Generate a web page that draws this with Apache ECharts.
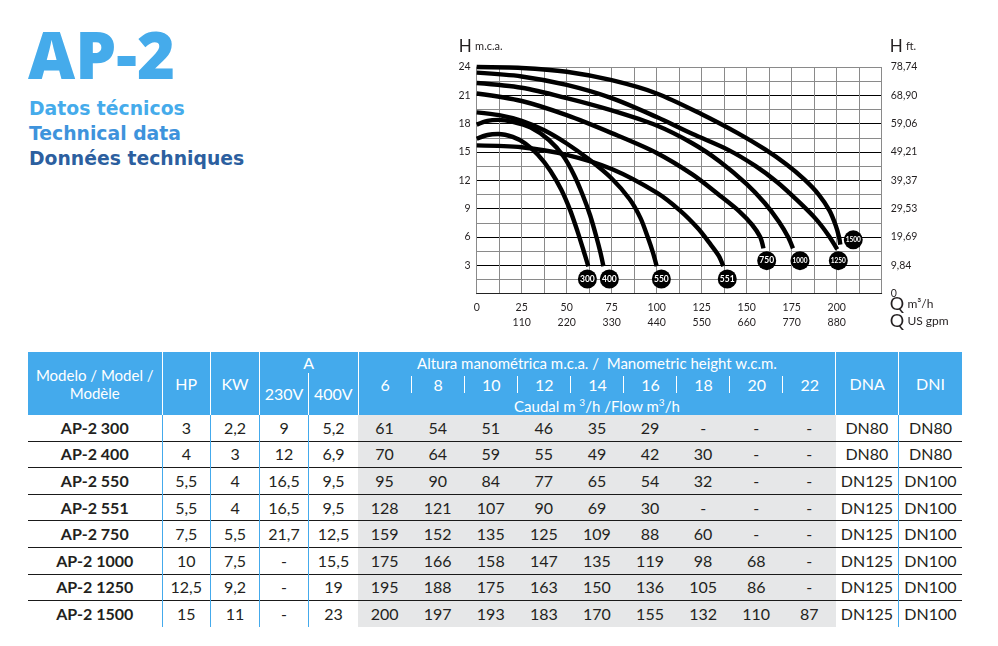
<!DOCTYPE html>
<html>
<head>
<meta charset="utf-8">
<title>AP-2</title>
<script src="https://cdn.jsdelivr.net/npm/echarts@6/dist/echarts.min.js"></script>
<style>
body{margin:0;width:998px;height:646px;background:#fff;overflow:hidden;position:relative;font-family:Lato,"Noto Sans",sans-serif;color:#231f20}
#ap{position:absolute;left:28px;top:22px;font-family:"Open Sans",sans-serif;font-weight:800;font-size:65px;line-height:1;color:#45abeb;white-space:nowrap}
.sub{position:absolute;left:29px;font-family:"DejaVu Sans",sans-serif;font-weight:bold;font-size:18.8px;line-height:25px;white-space:nowrap}
#chart{position:absolute;left:430px;top:30px;width:540px;height:310px}
#spec{position:absolute;left:28px;top:352px;width:934px;border-collapse:collapse;table-layout:fixed}
#spec th{background:#44aaec;color:#fff;font-weight:normal;font-size:15px;padding:0;text-align:center;border-right:1.5px solid #fff;line-height:18px}
#spec th.last{border-right:none}
#spec tr.h1{height:21px}
#spec tr.h2{height:42px}
#spec th.amp{border-bottom:none;vertical-align:middle}
#spec th.flow{vertical-align:middle}
.fl{line-height:19.5px;height:19.5px;white-space:nowrap}
.nums span{display:inline-block;width:53.1px;height:17px;line-height:17px;vertical-align:middle;font-size:16px}
.nums span+span{border-left:1px solid #fff;margin-left:-1px}
#spec td{padding:0;text-align:center;font-size:16px;height:25.6px;line-height:20px}
#spec tbody tr+tr td{border-top:1px solid #1a1a1a}
#spec td.b{border-right:1px solid #44aaec}
#spec td.m{font-weight:bold}
#spec td.g{background:#e6e7e8}
</style>
</head>
<body>
<div id="ap">AP-2</div>
<div class="sub" style="top:96px;color:#45abeb">Datos técnicos</div>
<div class="sub" style="top:121px;color:#3e93dc">Technical data</div>
<div class="sub" style="top:146px;color:#2c5f9f">Données techniques</div>
<div id="chart"></div>
<table id="spec">
<colgroup>
<col style="width:134px"><col style="width:48.5px"><col style="width:49px"><col style="width:49px"><col style="width:49.5px">
<col style="width:53.1px"><col style="width:53.1px"><col style="width:53.1px"><col style="width:53.1px"><col style="width:53.1px">
<col style="width:53.1px"><col style="width:53.1px"><col style="width:53.1px"><col style="width:53.1px">
<col style="width:62.6px"><col style="width:63.4px">
</colgroup>
<thead>
<tr class="h1">
<th rowspan="2">Modelo / Model /<br>Modèle</th>
<th rowspan="2" style="font-size:16px">HP</th>
<th rowspan="2" style="font-size:16px">KW</th>
<th colspan="2" class="amp" style="font-size:16px">A</th>
<th rowspan="2" colspan="9" class="flow">
<div class="fl">Altura manométrica m.c.a. /&nbsp; Manometric height w.c.m.</div>
<div class="fl nums" id="nums"></div>
<div class="fl">Caudal m <sup style="font-size:10px">3</sup>/h /Flow m<sup style="font-size:10px">3</sup>/h</div>
</th>
<th rowspan="2" style="font-size:16px">DNA</th>
<th rowspan="2" class="last" style="font-size:16px">DNI</th>
</tr>
<tr class="h2"><th style="font-size:16px">230V</th><th style="font-size:16px">400V</th></tr>
</thead>
<tbody id="rows"></tbody>
</table>
<script>
// tabla de datos técnicos
var headHeights = ['6', '8', '10', '12', '14', '16', '18', '20', '22'];
var models = ['AP-2 300', 'AP-2 400', 'AP-2 550', 'AP-2 551', 'AP-2 750', 'AP-2 1000', 'AP-2 1250', 'AP-2 1500'];
var hp = ['3', '4', '5,5', '5,5', '7,5', '10', '12,5', '15'];
var kw = ['2,2', '3', '4', '4', '5,5', '7,5', '9,2', '11'];
var amp230 = ['9', '12', '16,5', '16,5', '21,7', '-', '-', '-'];
var amp400 = ['5,2', '6,9', '9,5', '9,5', '12,5', '15,5', '19', '23'];
var flowRows = [
	['61', '54', '51', '46', '35', '29', '-', '-', '-'],
	['70', '64', '59', '55', '49', '42', '30', '-', '-'],
	['95', '90', '84', '77', '65', '54', '32', '-', '-'],
	['128', '121', '107', '90', '69', '30', '-', '-', '-'],
	['159', '152', '135', '125', '109', '88', '60', '-', '-'],
	['175', '166', '158', '147', '135', '119', '98', '68', '-'],
	['195', '188', '175', '163', '150', '136', '105', '86', '-'],
	['200', '197', '193', '183', '170', '155', '132', '110', '87']
];
var dna = ['DN80', 'DN80', 'DN125', 'DN125', 'DN125', 'DN125', 'DN125', 'DN125'];
var dni = ['DN80', 'DN80', 'DN100', 'DN100', 'DN100', 'DN100', 'DN100', 'DN100'];

// curvas: [Q m3/h, H m.c.a.]
var curve300 = [[0, 16.4], [6, 16.8], [12, 16.9], [20, 16.6], [27, 15.9], [34, 14.7], [41, 13.0], [47, 11.0], [52, 8.8], [56, 6.6], [59.3, 4.6], [62, 2.9]];
var curve400 = [[0, 17.9], [6, 18.3], [12, 18.4], [20, 18.2], [30, 17.6], [40, 16.3], [48, 14.6], [54, 12.6], [59, 10.4], [63, 8.3], [66.5, 6.0], [68.8, 4.3], [70.4, 2.9]];
var curve550 = [[0, 19.2], [12.5, 18.9], [25, 18.3], [37.5, 17.3], [50, 15.9], [62.5, 14.2], [75, 12.2], [85, 10.0], [91, 8.0], [95, 6.0], [98, 4.3], [100, 2.9]];
var curve551 = [[0, 15.7], [25, 15.5], [50, 14.7], [75, 13.2], [100, 10.7], [113, 8.8], [123, 6.9], [130, 5.2], [134.5, 4.0], [137, 2.9]];
var curve750 = [[0, 21.2], [25, 20.4], [50, 18.9], [75, 17.0], [100, 14.9], [120, 12.6], [135, 10.4], [146, 8.7], [153, 7.3], [157.5, 6.0], [159.3, 4.8]];
var curve1000 = [[0, 22.3], [25, 21.8], [50, 20.7], [75, 19.4], [100, 17.8], [120, 15.9], [135, 14.0], [150, 11.6], [160, 9.6], [168, 7.6], [173, 6.0], [175.7, 4.8]];
var curve1250 = [[0, 23.4], [25, 23.0], [50, 22.1], [75, 20.7], [100, 18.7], [120, 16.9], [140, 15.2], [155, 13.5], [167, 11.8], [178, 9.9], [188, 8.0], [195, 6.3], [200.3, 4.7]];
var curve1500 = [[0, 24.0], [25, 23.9], [50, 23.5], [75, 22.6], [100, 21.2], [125, 19.0], [145, 17.0], [160, 15.3], [172, 13.7], [182, 12.1], [190, 10.5], [196, 8.8], [199.5, 7.2], [201.3, 6.0], [202, 5.2]];
var curves = [curve300, curve400, curve550, curve551, curve750, curve1000, curve1250, curve1500];

// etiquetas de las curvas
var badgeNames = ['300', '400', '550', '551', '750', '1000', '1250', '1500'];
var badgeQ = [61.5, 73.7, 102.6, 139.2, 161.1, 179.6, 200.9, 209.2];
var badgeH = [1.55, 1.55, 1.55, 1.55, 3.5, 3.5, 3.5, 5.7];

// ejes
var qTicks = [0, 25, 50, 75, 100, 125, 150, 175, 200];
var gpmTicks = ['', '110', '220', '330', '440', '550', '660', '770', '880'];
var hTicks = [0, 3, 6, 9, 12, 15, 18, 21, 24];
var hLabels = ['', '3', '6', '9', '12', '15', '18', '21', '24'];
var ftLabels = ['0', '9,84', '19,69', '29,53', '39,37', '49,21', '59,06', '68,90', '78,74'];

// cabecera de alturas
var numsHtml = '';
for (var i = 0; i < headHeights.length; i++) {
	numsHtml += '<span>' + headHeights[i] + '</span>';
}
document.getElementById('nums').innerHTML = numsHtml;

// filas
var rowsHtml = '';
for (var r = 0; r < models.length; r++) {
	rowsHtml += '<tr>';
	rowsHtml += '<td class="b m">' + models[r] + '</td>';
	rowsHtml += '<td class="b">' + hp[r] + '</td>';
	rowsHtml += '<td class="b">' + kw[r] + '</td>';
	rowsHtml += '<td class="b">' + amp230[r] + '</td>';
	rowsHtml += '<td>' + amp400[r] + '</td>';
	for (var c = 0; c < flowRows[r].length; c++) {
		rowsHtml += '<td class="g">' + flowRows[r][c] + '</td>';
	}
	rowsHtml += '<td class="b">' + dna[r] + '</td>';
	rowsHtml += '<td>' + dni[r] + '</td>';
	rowsHtml += '</tr>';
}
document.getElementById('rows').innerHTML = rowsHtml;

var myChart = echarts.init(document.getElementById('chart'));

var series = [];
for (var k = 0; k < curves.length; k++) {
	series.push({
		name : badgeNames[k],
		type : 'line',
		data : curves[k],
		smooth : 0.3,
		showSymbol : false,
		clip : false,
		silent : true,
		lineStyle : {
			color : '#000',
			width : 4.4
		},
		z : 3
	});
}
var badgeData = [];
for (var b = 0; b < badgeNames.length; b++) {
	badgeData.push({
		name : badgeNames[b],
		value : [badgeQ[b], badgeH[b]],
		label : {
			fontSize : badgeNames[b].length > 3 ? 6.5 : 8.5
		}
	});
}
series.push({
	type : 'scatter',
	data : badgeData,
	symbolSize : 19,
	clip : false,
	itemStyle : {
		color : '#000',
		opacity : 1
	},
	label : {
		show : true,
		position : 'inside',
		formatter : '{b}',
		color : '#fff',
		fontFamily : 'Lato',
		fontWeight : 'bold'
	},
	z : 5
});

var option = {
	animation : false,
	grid : {
		left : 46.7,
		top : 37,
		width : 405,
		height : 226.7
	},
	xAxis : {
		type : 'value',
		min : 0,
		max : 225,
		interval : 12.5,
		name : '{h|Q} {u|m³/h}\n{h|Q} {u|US gpm}',
		nameLocation : 'end',
		nameGap : 8,
		nameMoveOverlap : false,
		nameTextStyle : {
			align : 'left',
			verticalAlign : 'top',
			padding : [2, 0, 0, 0],
			lineHeight : 17,
			rich : {
				h : { fontSize : 18, fontFamily : 'Lato', color : '#231f20', lineHeight : 17 },
				u : { fontSize : 12, fontFamily : 'Lato', color : '#231f20', lineHeight : 17 }
			}
		},
		axisLine : { lineStyle : { color : '#222', width : 1 } },
		axisTick : { show : false },
		splitLine : { show : true, lineStyle : { color : '#8a8a8a', width : 1 } },
		axisLabel : {
			interval : 0,
			margin : 6,
			lineHeight : 15,
			fontFamily : 'Lato',
			fontSize : 10.5,
			color : '#231f20',
			formatter : function (value) {
				var idx = qTicks.indexOf(value);
				if (idx < 0) return '';
				if (gpmTicks[idx] === '') return String(qTicks[idx]);
				return qTicks[idx] + '\n' + gpmTicks[idx];
			}
		}
	},
	yAxis : [ {
		type : 'value',
		min : 0,
		max : 24,
		interval : 3,
		name : '{h|H} {u|m.c.a.}',
		nameLocation : 'end',
		nameGap : 12,
		nameTextStyle : {
			align : 'center',
			padding : [0, 0, 0, 8],
			rich : {
				h : { fontSize : 17, fontFamily : 'Lato', color : '#231f20' },
				u : { fontSize : 11, fontFamily : 'Lato', color : '#231f20' }
			}
		},
		axisLine : { show : true, lineStyle : { color : '#8a8a8a' } },
		axisTick : { show : false },
		axisLabel : {
			margin : 6,
			fontFamily : 'Lato',
			fontSize : 10.5,
			color : '#231f20',
			formatter : function (value) {
				var idx = hTicks.indexOf(value);
				return idx < 0 ? '' : hLabels[idx];
			}
		},
		splitLine : {
			show : true,
			lineStyle : {
				color : ['#8a8a8a', '#000', '#000', '#000', '#000', '#000', '#000', '#000', '#8a8a8a'],
				width : 1
			}
		},
		minorTick : { show : false, splitNumber : 2 },
		minorSplitLine : { show : true, lineStyle : { color : '#8a8a8a', width : 1 } }
	}, {
		type : 'value',
		min : 0,
		max : 24,
		interval : 3,
		position : 'right',
		name : '{h|H} {u|ft.}',
		nameLocation : 'end',
		nameGap : 12,
		nameTextStyle : {
			align : 'left',
			padding : [0, 0, 0, 8],
			rich : {
				h : { fontSize : 17, fontFamily : 'Lato', color : '#231f20' },
				u : { fontSize : 11, fontFamily : 'Lato', color : '#231f20' }
			}
		},
		axisLine : { show : false },
		axisTick : { show : false },
		splitLine : { show : false },
		axisLabel : {
			margin : 9,
			fontFamily : 'Lato',
			fontSize : 10.5,
			color : '#231f20',
			formatter : function (value) {
				var idx = hTicks.indexOf(value);
				return idx < 0 ? '' : ftLabels[idx];
			}
		}
	} ],
	series : series
};

myChart.setOption(option);
</script>
</body>
</html>
